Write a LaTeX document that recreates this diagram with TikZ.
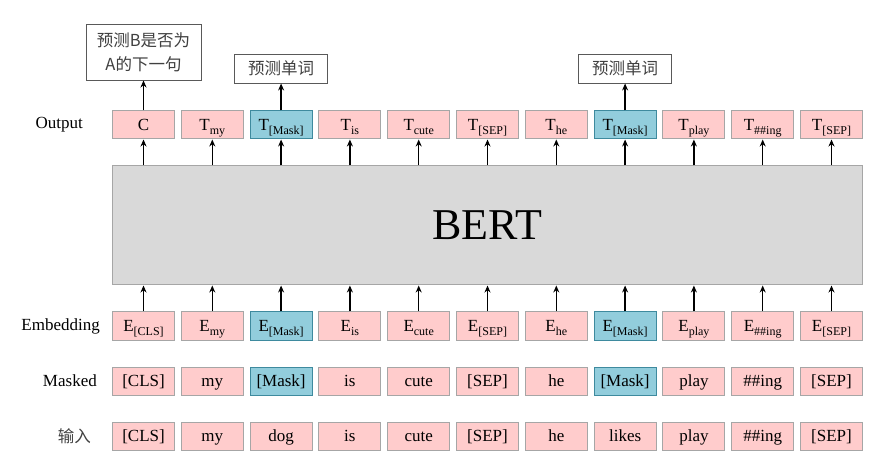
\documentclass[tikz,border=0pt]{standalone}
\usepackage{fontspec}
\setmainfont{Liberation Serif}
\newfontfamily\cjk{Noto Sans CJK SC}
\usetikzlibrary{arrows.meta,positioning}
\definecolor{TokPink}{HTML}{FFCCCC}
\definecolor{TokLine}{HTML}{A6A6A6}
\definecolor{MaskBlue}{HTML}{92CDDC}
\definecolor{MaskLine}{HTML}{3E8A9E}
\definecolor{BertGray}{HTML}{D9D9D9}
\newcommand{\tsub}[2]{#1\raisebox{-0.45ex}{\fontsize{12}{12}\selectfont #2}}

\begin{document}
\begin{tikzpicture}[
    font=\fontsize{17}{20}\selectfont,
    tok/.style={draw=TokLine, fill=TokPink, line width=1pt, minimum width=62pt, minimum height=28pt, inner sep=0pt, text height=12pt, text depth=0.5pt},
    mask/.style={tok, draw=MaskLine, fill=MaskBlue},
    bertbox/.style={draw=TokLine, fill=BertGray, line width=1pt, minimum width=750pt, minimum height=119pt, font=\fontsize{44}{46}\selectfont},
    note/.style={draw=black!65, fill=white, line width=0.8pt, align=center, inner sep=0pt, font=\cjk\fontsize{16.5}{24}\selectfont, text=black!75},
    rowlabel/.style={inner sep=0pt},
    arr/.style={-{Stealth[length=7pt, width=6pt]}, line width=1.3pt}
]
\useasboundingbox (0,0) rectangle (878pt,-462pt);
% input row
\node[tok] (in1) at (143.5pt,-436pt) {[CLS]};
\node[tok, right=5.8pt of in1] (in2) {my};
\node[tok, right=5.8pt of in2] (in3) {dog};
\node[tok, right=5.8pt of in3] (in4) {is};
\node[tok, right=5.8pt of in4] (in5) {cute};
\node[tok, right=5.8pt of in5] (in6) {[SEP]};
\node[tok, right=5.8pt of in6] (in7) {he};
\node[tok, right=5.8pt of in7] (in8) {likes};
\node[tok, right=5.8pt of in8] (in9) {play};
\node[tok, right=5.8pt of in9] (in10) {\#\#ing};
\node[tok, right=5.8pt of in10] (in11) {[SEP]};
% masked row
\node[tok, above=26pt of in1] (mk1) {[CLS]};
\node[tok, above=26pt of in2] (mk2) {my};
\node[mask, above=26pt of in3] (mk3) {[Mask]};
\node[tok, above=26pt of in4] (mk4) {is};
\node[tok, above=26pt of in5] (mk5) {cute};
\node[tok, above=26pt of in6] (mk6) {[SEP]};
\node[tok, above=26pt of in7] (mk7) {he};
\node[mask, above=26pt of in8] (mk8) {[Mask]};
\node[tok, above=26pt of in9] (mk9) {play};
\node[tok, above=26pt of in10] (mk10) {\#\#ing};
\node[tok, above=26pt of in11] (mk11) {[SEP]};
% embedding row
\node[tok, above=26pt of mk1] (em1) {\tsub{E}{[CLS]}};
\node[tok, above=26pt of mk2] (em2) {\tsub{E}{my}};
\node[mask, above=26pt of mk3] (em3) {\tsub{E}{[Mask]}};
\node[tok, above=26pt of mk4] (em4) {\tsub{E}{is}};
\node[tok, above=26pt of mk5] (em5) {\tsub{E}{cute}};
\node[tok, above=26pt of mk6] (em6) {\tsub{E}{[SEP]}};
\node[tok, above=26pt of mk7] (em7) {\tsub{E}{he}};
\node[mask, above=26pt of mk8] (em8) {\tsub{E}{[Mask]}};
\node[tok, above=26pt of mk9] (em9) {\tsub{E}{play}};
\node[tok, above=26pt of mk10] (em10) {\tsub{E}{\#\#ing}};
\node[tok, above=26pt of mk11] (em11) {\tsub{E}{[SEP]}};
% encoder
\node[bertbox, above=26pt of em6] (bert) {BERT};
% output row
\node[tok, above=172pt of em1] (out1) {C};
\node[tok, above=172pt of em2] (out2) {\tsub{T}{my}};
\node[mask, above=172pt of em3] (out3) {\tsub{T}{[Mask]}};
\node[tok, above=172pt of em4] (out4) {\tsub{T}{is}};
\node[tok, above=172pt of em5] (out5) {\tsub{T}{cute}};
\node[tok, above=172pt of em6] (out6) {\tsub{T}{[SEP]}};
\node[tok, above=172pt of em7] (out7) {\tsub{T}{he}};
\node[mask, above=172pt of em8] (out8) {\tsub{T}{[Mask]}};
\node[tok, above=172pt of em9] (out9) {\tsub{T}{play}};
\node[tok, above=172pt of em10] (out10) {\tsub{T}{\#\#ing}};
\node[tok, above=172pt of em11] (out11) {\tsub{T}{[SEP]}};
% prediction tasks
\node[note, minimum width=115pt, minimum height=56pt, above=30pt of out1] (nsp) {预测B是否为\\A的下一句};
\node[note, minimum width=93pt, minimum height=29pt, above=27pt of out3] (mlm1) {预测单词};
\node[note, minimum width=93pt, minimum height=29pt, above=27pt of out8] (mlm2) {预测单词};
% row labels
\node[rowlabel, left=29pt of out1] (lout) {Output};
\node[rowlabel, left=12pt of em1] (lemb) {Embedding};
\node[rowlabel, left=15pt of mk1] (lmask) {Masked};
\node[rowlabel, left=21pt of in1, font=\cjk\fontsize{16.5}{20}\selectfont, text=black!75] (lin) {输入};
% arrows
\draw[arr] (out1) -- (nsp);
\draw[arr] (out3) -- (mlm1);
\draw[arr] (out8) -- (mlm2);
\draw[arr] (bert.north -| out1) -- (out1);
\draw[arr] (bert.north -| out2) -- (out2);
\draw[arr] (bert.north -| out3) -- (out3);
\draw[arr] (bert.north -| out4) -- (out4);
\draw[arr] (bert.north -| out5) -- (out5);
\draw[arr] (bert.north -| out6) -- (out6);
\draw[arr] (bert.north -| out7) -- (out7);
\draw[arr] (bert.north -| out8) -- (out8);
\draw[arr] (bert.north -| out9) -- (out9);
\draw[arr] (bert.north -| out10) -- (out10);
\draw[arr] (bert.north -| out11) -- (out11);
\draw[arr] (em1) -- (em1 |- bert.south);
\draw[arr] (em2) -- (em2 |- bert.south);
\draw[arr] (em3) -- (em3 |- bert.south);
\draw[arr] (em4) -- (em4 |- bert.south);
\draw[arr] (em5) -- (em5 |- bert.south);
\draw[arr] (em6) -- (em6 |- bert.south);
\draw[arr] (em7) -- (em7 |- bert.south);
\draw[arr] (em8) -- (em8 |- bert.south);
\draw[arr] (em9) -- (em9 |- bert.south);
\draw[arr] (em10) -- (em10 |- bert.south);
\draw[arr] (em11) -- (em11 |- bert.south);
\end{tikzpicture}
\end{document}
